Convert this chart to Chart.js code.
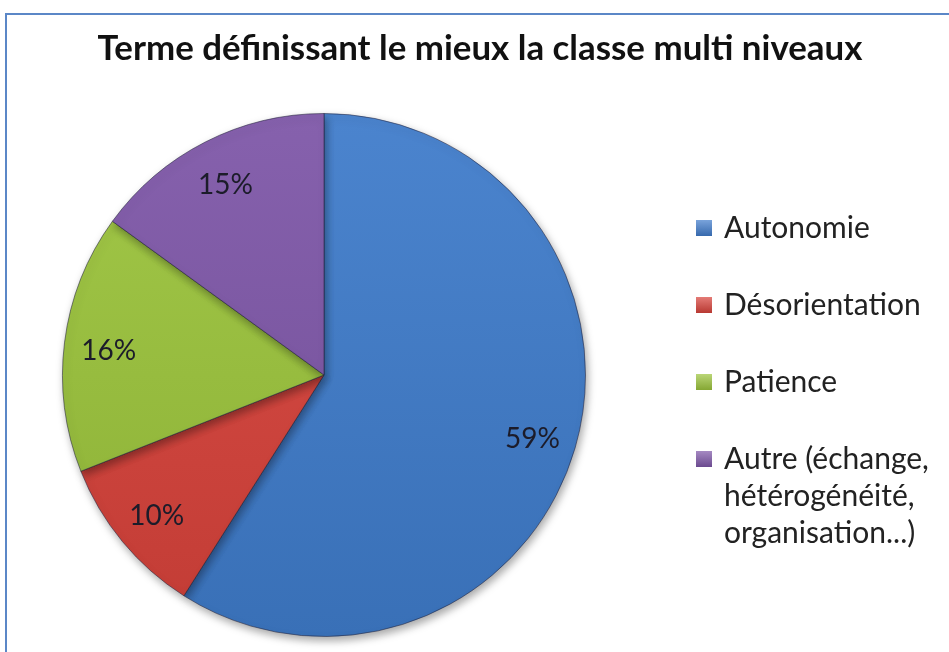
<!DOCTYPE html>
<html lang="fr">
<head>
<meta charset="utf-8">
<title>Terme définissant le mieux la classe multi niveaux</title>
<script src="https://cdn.jsdelivr.net/npm/chart.js@4/dist/chart.umd.min.js"></script>
<style>
    html, body { margin: 0; padding: 0; background: #fff; }
    #cadre {
        position: absolute; left: 5px; top: 13px; width: 1000px; height: 700px;
        border-left: 2px solid #5b87c7; border-top: 2px solid #5b87c7;
    }
    #zone { position: absolute; left: 0; top: 0; width: 949px; height: 652px; }
</style>
</head>
<body>
<div id="cadre"></div>
<div id="zone"><canvas id="graphiqueTerme" width="949" height="652"></canvas></div>
<script>
// données
const titre = 'Terme définissant le mieux la classe multi niveaux';
const categories = ['Autonomie', 'Désorientation', 'Patience', 'Autre (échange,\nhétérogénéité,\norganisation...)'];
const pourcentages = [59, 10, 16, 15];
const couleurs = ['#3f7ccb', '#d8433b', '#9cc43c', '#7e57a8'];

const police = 'Lato, "Open Sans", sans-serif';

// éclaircit / assombrit une couleur hex
function nuance(hex, f) {
    const n = parseInt(hex.slice(1), 16);
    let r = (n >> 16) & 255, g = (n >> 8) & 255, b = n & 255;
    if (f > 0) { r += (255 - r) * f; g += (255 - g) * f; b += (255 - b) * f; }
    else { r *= 1 + f; g *= 1 + f; b *= 1 + f; }
    return `rgb(${Math.round(r)},${Math.round(g)},${Math.round(b)})`;
}

function degrade(context, i) {
    const area = context.chart.chartArea;
    if (!area) return couleurs[i];
    const g = context.chart.ctx.createLinearGradient(0, area.top, 0, area.bottom);
    g.addColorStop(0, nuance(couleurs[i], 0.06));
    g.addColorStop(1, nuance(couleurs[i], -0.1));
    return g;
}

// titre, étiquettes et légende dessinés à la main
const decor = {
    id: 'decor',
    beforeDatasetsDraw(chart) {
        const ctx = chart.ctx;
        ctx.save();
        ctx.shadowColor = 'rgba(0,0,0,0.35)';
        ctx.shadowBlur = 8;
        ctx.shadowOffsetX = 2;
        ctx.shadowOffsetY = 4;
    },
    afterDatasetsDraw(chart) {
        const ctx = chart.ctx;
        ctx.restore();

        // titre
        ctx.save();
        ctx.fillStyle = '#111';
        ctx.textAlign = 'center';
        ctx.textBaseline = 'middle';
        let taille = 28;
        ctx.font = `bold ${taille}px ${police}`;
        taille = taille * 765 / ctx.measureText(titre).width;
        ctx.font = `bold ${taille}px ${police}`;
        ctx.fillText(titre, 480, 49);

        // pourcentages dans les parts
        const meta = chart.getDatasetMeta(0);
        const total = pourcentages.reduce((a, b) => a + b, 0);
        ctx.font = `28px ${police}`;
        ctx.fillStyle = '#1c1c2a';
        meta.data.forEach((arc, i) => {
            const p = arc.getProps(['x', 'y', 'startAngle', 'endAngle', 'outerRadius'], true);
            const milieu = (p.startAngle + p.endAngle) / 2;
            const r = p.outerRadius * 0.83;
            ctx.fillText(Math.round(pourcentages[i] / total * 100) + '%',
                p.x + Math.cos(milieu) * r, p.y + Math.sin(milieu) * r + 3);
        });

        // légende
        ctx.textAlign = 'left';
        ctx.font = `30px ${police}`;
        let y = 228;
        categories.forEach((cat, i) => {
            const g = ctx.createLinearGradient(0, y - 8, 0, y + 8);
            g.addColorStop(0, nuance(couleurs[i], 0.3));
            g.addColorStop(1, nuance(couleurs[i], -0.15));
            ctx.fillStyle = g;
            ctx.fillRect(696, y - 8, 16, 16);
            ctx.fillStyle = '#222';
            cat.split('\n').forEach((ligne, k) => {
                ctx.fillText(ligne, 724, y + k * 37);
            });
            y += 77;
        });
        ctx.restore();
    }
};

const ctx = document.getElementById('graphiqueTerme').getContext('2d');
new Chart(ctx, {
    type: 'pie',
    data: {
        labels: categories,
        datasets: [{
            data: pourcentages,
            backgroundColor: c => degrade(c, c.dataIndex),
            borderColor: 'rgba(35,35,60,0.55)',
            borderWidth: 1
        }]
    },
    options: {
        responsive: false,
        animation: false,
        layout: { padding: { left: 62, right: 363, top: 113, bottom: 15 } },
        plugins: {
            legend: { display: false },
            tooltip: { enabled: false },
            title: { display: false }
        }
    },
    plugins: [decor]
});
</script>
</body>
</html>
